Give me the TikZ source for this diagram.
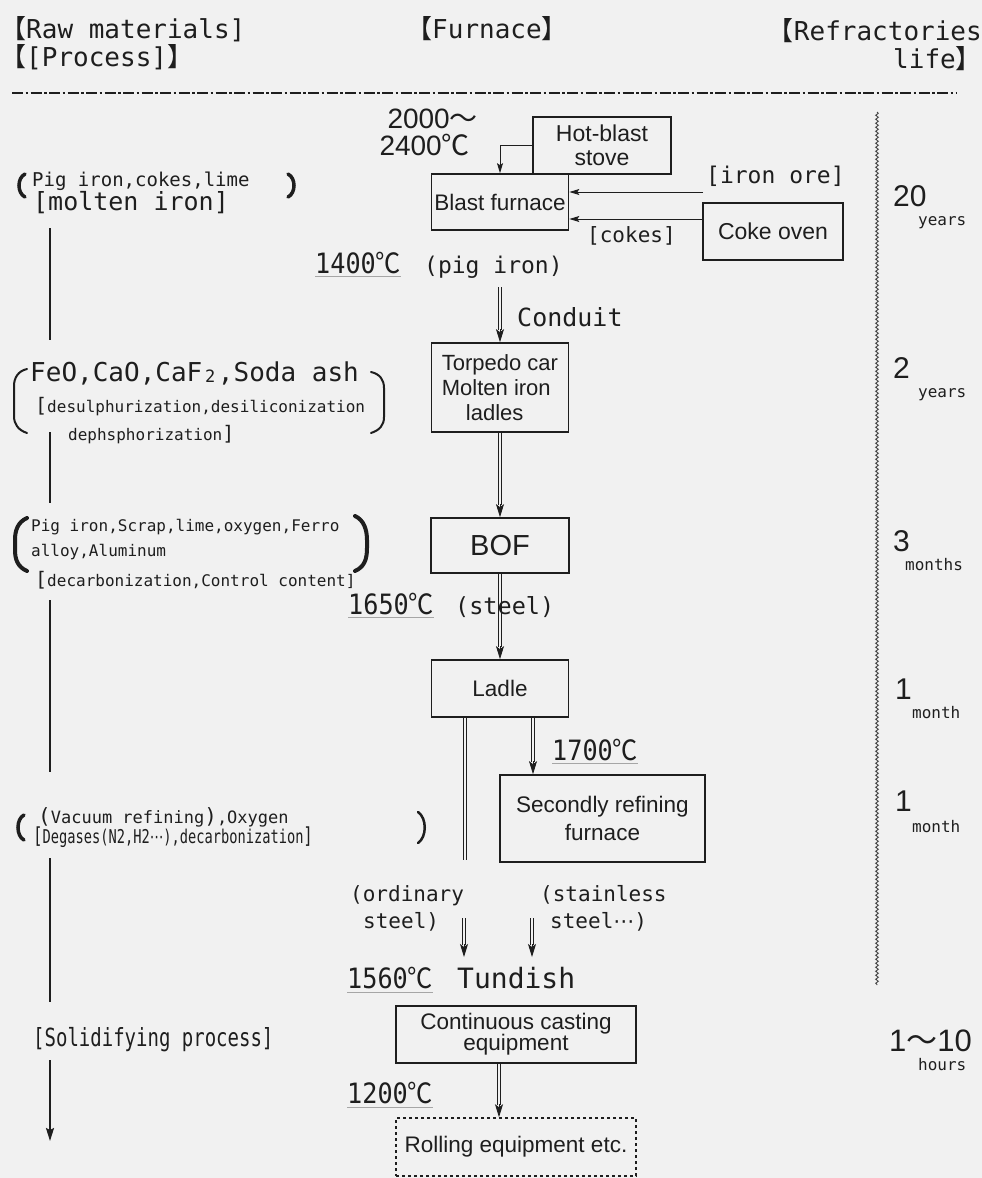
\documentclass[tikz,border=0pt]{standalone}
\usepackage{fontspec}
\usepackage{graphicx}
\setmainfont{Liberation Sans}
\newfontfamily\mono{DejaVu Sans Mono}
\newfontfamily\cjk{Noto Sans CJK JP}
\newfontfamily\dvs{DejaVu Sans}
\usetikzlibrary{arrows.meta,decorations.pathmorphing,calc}
\definecolor{bg}{RGB}{241,241,241}
\definecolor{ink}{RGB}{30,30,30}
\newcommand\fs[1]{\fontsize{#1}{#1}\selectfont}
\newcommand\mx[3]{{\mono\fontsize{#1}{#1}\selectfont\scalebox{#2}[1]{#3}}}
\newcommand\degc{{\cjk ℃}}
\newcommand\lbk{{\cjk 【}}
\newcommand\rbk{{\cjk 】}}
\newcommand\dar[3][]{\draw[dbl, shorten >=12pt, #1] (#2) -- (#3); \draw[dtip] ([yshift=13pt]#3) -- (#3);}
\begin{document}
\begin{tikzpicture}[x=1pt,y=-1pt,
  box/.style={draw=ink, line width=1.7pt, inner sep=0pt, align=center, text=ink, font=\fontsize{22.5}{24}\selectfont},
  lbl/.style={inner sep=0pt, text=ink, anchor=base west},
  dbl/.style={draw=ink, line width=0.9pt, double=bg, double distance=2.2pt},
  dtip/.style={draw=ink, line width=0.9pt, -{Stealth[length=13pt,width=8pt,inset=3pt]}},
  sarr/.style={draw=ink, line width=0.9pt, -{Stealth[length=10pt,width=6pt,inset=2pt]}},
  vline/.style={draw=ink, line width=2pt},
  uline/.style={draw=gray!70, line width=0.8pt},
  paren/.style={draw=ink, line cap=round}
]
\fill[bg] (0,0) rectangle (982,1178);
\useasboundingbox (0,0) rectangle (982,1178);

% header
\node[lbl] (hraw) at (0,38) {\mx{26}{1}{\lbk Raw materials]}};
\node[lbl] (hproc) at (0,66) {\mx{26}{1}{\lbk[Process]\rbk}};
\node[lbl, anchor=base] (hfur) at (487,38) {\mx{26}{1}{\lbk Furnace\rbk}};
\node[lbl, anchor=base east] (href) at (982,40) {\mx{26}{1}{\lbk Refractories}};
\node[lbl, anchor=base east] (hlife) at (982,68) {\mx{26}{1}{life\rbk}};
\draw[ink, line width=1.3pt, dash pattern=on 11pt off 2.5pt on 2.5pt off 2.5pt] (12,93) -- (957,93);

% blast furnace area
\node[lbl, anchor=base east, font=\fs{28}] (t2000) at (478,128) {2000{\cjk ～}};
\node[lbl, anchor=base east, font=\fs{28}] (t2400) at (470,155) {2400\degc};
\node[box, line width=1.2pt, minimum width=138pt, minimum height=57pt, font=\fontsize{23}{23.5}\selectfont] (stove) at (602,145.5) {Hot-blast\\stove};
\node[box, minimum width=137pt, minimum height=56pt] (bf) at (500,202) {Blast furnace};
\node[box, line width=1.2pt, minimum width=140pt, minimum height=57pt, font=\fs{23}] (coke) at (773,231.5) {Coke oven};
\node[lbl] (ore) at (706,183) {\mx{23}{1}{[iron ore]}};
\node[lbl] (cokes) at (587,242) {\mx{21}{1}{[cokes]}};
\coordinate (oreS) at (703,192);
\coordinate (ck) at ([yshift=12.5pt]coke.west);
\draw[sarr] (stove.west) -| (bf.north);
\draw[sarr] (oreS) -- (oreS -| bf.east);
\draw[sarr] (ck) -- (ck -| bf.east);

\node[lbl] (t1400) at (315,273) {\mx{28}{0.9}{1400\degc}};
\draw[uline] ([yshift=-3pt]t1400.base west) -- ([yshift=-3pt]t1400.base east);
\node[lbl] (pig) at (424,273) {\mx{23}{1}{(pig iron)}};

% torpedo
\node[box, minimum width=137pt, minimum height=89pt, align=left, font=\fontsize{22}{25}\selectfont] (torp) at (500,387.5) {Torpedo car\\Molten iron\\\hspace*{24pt}ladles};
\dar[shorten <=9pt]{pig.south -| torp.north}{torp.north}
\node[lbl] (cond) at (517,326) {\mx{25}{1}{Conduit}};

% BOF
\node[box, minimum width=138pt, minimum height=55pt, font=\fs{29}] (bof) at (500,545.5) {BOF};
\dar{torp.south}{bof.north}

% ladle
\node[box, minimum width=137pt, minimum height=57pt] (ladle) at (500,688.5) {Ladle};
\dar{bof.south}{ladle.north}
\node[lbl] (t1650) at (348,614) {\mx{28}{0.9}{1650\degc}};
\draw[uline] ([yshift=-3pt]t1650.base west) -- ([yshift=-3pt]t1650.base east);
\node[lbl] (steel) at (455,614) {\mx{23.5}{1}{(steel)}};

% secondary refining
\node[box, minimum width=205pt, minimum height=87pt, font=\fontsize{22.5}{28}\selectfont] (sec) at (602.5,818.5) {Secondly refining\\furnace};
\coordinate (lr) at ([xshift=33pt]ladle.south);
\coordinate (lrE) at (lr |- sec.north);
\dar{lr}{lrE}
\node[lbl] (t1700) at (552,760) {\mx{28}{0.9}{1700\degc}};
\draw[uline] ([yshift=-3pt]t1700.base west) -- ([yshift=-3pt]t1700.base east);
\coordinate (ll) at ([xshift=-35pt]ladle.south);
\coordinate (llE) at (465,860);
\draw[dbl] (ll) -- (llE);

% ordinary / stainless
\node[lbl] (ord1) at (350,901) {\mx{21}{1}{(ordinary}};
\node[lbl] (ord2) at (363,928) {\mx{21}{1}{steel)}};
\node[lbl] (st1) at (540,901) {\mx{21}{1}{(stainless}};
\node[lbl] (st2) at (550,928) {\mx{21}{1}{steel{\dvs ⋯})}};
\coordinate (oa) at (464,918);
\coordinate (ta) at (464,957);
\coordinate (ob) at (532,918);
\coordinate (tb) at (532,957);
\dar{oa}{ta}
\dar{ob}{tb}

% tundish
\node[lbl] (t1560) at (347,988) {\mx{28}{0.9}{1560\degc}};
\draw[uline] ([yshift=-4pt]t1560.base west) -- ([yshift=-4pt]t1560.base east);
\node[lbl] (tund) at (457,988) {\mx{28}{1}{Tundish}};

% continuous casting
\node[box, minimum width=240pt, minimum height=57pt, font=\fontsize{22.5}{21}\selectfont] (cc) at (516,1034.5) {Continuous casting\\equipment};
\node[box, line width=1.5pt, dash pattern=on 3pt off 3pt, minimum width=240pt, minimum height=58pt] (roll) at (516,1147) {Rolling equipment etc.};
\coordinate (cs) at ([xshift=-17pt]cc.south);
\coordinate (rn) at ([xshift=-17pt]roll.north);
\dar{cs}{rn}
\node[lbl] (t1200) at (347,1103) {\mx{28}{0.9}{1200\degc}};
\draw[uline] ([yshift=-4pt]t1200.base west) -- ([yshift=-4pt]t1200.base east);

% left column
\node[lbl] (l1a) at (32,186) {\mx{19}{1}{Pig iron,cokes,lime}};
\node[lbl] (l1b) at (33,210) {\mx{25}{1}{[molten iron]}};
\draw[paren, line width=3.5pt] (25,174) .. controls (17,178) and (17,193) .. (25,197);
\draw[paren, line width=3.5pt] (288,174) .. controls (296,178) and (296,193) .. (288,197);

\node[lbl] (l2a) at (30,381) {\mx{26}{1}{FeO,CaO,CaF\makebox[15.6pt]{\raisebox{-1pt}{\fontsize{17}{17}\selectfont 2}},Soda ash}};
\node[lbl] (l2b) at (35,412) {\mx{16}{1}{{\fontsize{20}{20}\selectfont[}desulphurization,desiliconization}};
\node[lbl] (l2c) at (68,440) {\mx{16}{1}{dephsphorization{\fontsize{20}{20}\selectfont]}}};
\draw[paren, line width=2pt] (27,369) .. controls (18,371) and (14,378) .. (14,386) -- (14,416) .. controls (14,424) and (18,430) .. (27,433);
\draw[paren, line width=2pt] (371,372) .. controls (380,374) and (384,380) .. (384,388) -- (384,417) .. controls (384,425) and (380,430) .. (371,433);

\node[lbl] (l3a) at (31,531) {\mx{16}{1}{Pig iron,Scrap,lime,oxygen,Ferro}};
\node[lbl] (l3b) at (31,556) {\mx{16}{1}{alloy,Aluminum}};
\node[lbl] (l3c) at (35,586) {\mx{16}{1}{{\fontsize{20}{20}\selectfont[}decarbonization,Control content]}};
\draw[paren, line width=4pt] (27,518) .. controls (18,522) and (15,530) .. (15,540) -- (15,550) .. controls (15,560) and (18,567) .. (27,571);
\draw[paren, line width=4pt] (355,516) .. controls (364,520) and (367,530) .. (367,540) -- (367,548) .. controls (367,560) and (364,567) .. (355,571);

\node[lbl] (l4a) at (38,823) {\mx{17}{1}{{\fontsize{21}{21}\selectfont(}Vacuum refining{\fontsize{21}{21}\selectfont)},Oxygen}};
\node[lbl] (l4b) at (33,843) {\mx{19}{0.72}{{\fontsize{22}{22}\selectfont[}Degases(N2,H2{\dvs ⋯}),decarbonization{\fontsize{22}{22}\selectfont]}}};
\draw[paren, line width=3.5pt] (24,815) .. controls (16,819) and (16,836) .. (24,840);
\draw[paren, line width=2.5pt] (418,812) .. controls (427,818) and (427,837) .. (418,843);

\node[lbl] (l5) at (33,1046) {\mx{25}{0.76}{[Solidifying process]}};

\coordinate (v1a) at (50,228); \coordinate (v1b) at (50,340);
\coordinate (v2a) at (50,432); \coordinate (v2b) at (50,503);
\coordinate (v3a) at (50,600); \coordinate (v3b) at (50,772);
\coordinate (v4a) at (50,858); \coordinate (v4b) at (50,1002);
\coordinate (v5a) at (50,1060); \coordinate (v5b) at (50,1141);
\draw[vline] (v1a) -- (v1b);
\draw[vline] (v2a) -- (v2b);
\draw[vline] (v3a) -- (v3b);
\draw[vline] (v4a) -- (v4b);
\draw[vline, -{Stealth[length=13pt,width=8pt,inset=2pt]}] (v5a) -- (v5b);

% right column
\draw[ink!85, line width=0.9pt, decorate, decoration={snake, amplitude=1.3pt, segment length=4pt}] (877,112) -- (877,985);
\node[lbl, font=\fs{30}] (r1) at (893,206) {20};
\node[lbl] (r1u) at (918,225) {\mx{16}{1}{years}};
\node[lbl, font=\fs{30}] (r2) at (893,378) {2};
\node[lbl] (r2u) at (918,397) {\mx{16}{1}{years}};
\node[lbl, font=\fs{30}] (r3) at (893,551) {3};
\node[lbl] (r3u) at (905,570) {\mx{16}{1}{months}};
\node[lbl, font=\fs{30}] (r4) at (895,699) {1};
\node[lbl] (r4u) at (912,718) {\mx{16}{1}{month}};
\node[lbl, font=\fs{30}] (r5) at (895,811) {1};
\node[lbl] (r5u) at (912,832) {\mx{16}{1}{month}};
\node[lbl, font=\fs{31}] (r6) at (889,1051) {1{\cjk ～}10};
\node[lbl] (r6u) at (918,1070) {\mx{16}{1}{hours}};
\end{tikzpicture}
\end{document}
